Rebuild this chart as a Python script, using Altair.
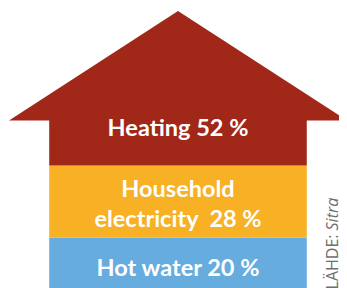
import altair as alt
import pandas as pd

# ---- data (bottom band first) ----
categories = ["Hot water", "Household electricity", "Heating"]
shares = [20, 28, 52]
colors = ["#66ACDF", "#F8B024", "#A12718"]
label_lines = [["Hot water 20 %"], ["Household", "electricity\u00a0 28 %"], ["Heating 52 %"]]
source_parts = ["LÄHDE:", "Sitra"]

# ---- house geometry (in scale units) ----
ROOF_BASE = 65.5
APEX = 108.1
BODY_HALF = 0.762
X_MAX = 1 - 8 / 169.0   # right part of the roof runs off the page

bands = []
top = 0
for cat, s, c in zip(categories, shares, colors):
    y0, y1 = top, top + s
    top = y1
    bands.append({"cat": cat, "share": s, "color": c, "y0": y0, "y1": y1,
                  "xl": -BODY_HALF, "xr": BODY_HALF})
bands[-1]["y1"] = ROOF_BASE + 2
bands_df = pd.DataFrame(bands)

roof_df = pd.DataFrame({"x": [-1.0, 0.0, 1.0],
                        "y": [ROOF_BASE, APEX, ROOF_BASE],
                        "y2": [ROOF_BASE] * 3})

offsets = [[5.2], [15.8, 4.2], [11.5]]
lab_rows = []
for b, lines, offs in zip(bands, label_lines, offsets):
    for t, o in zip(lines, offs):
        lab_rows.append({"text": t, "x": 0.0, "y": b["y0"] + o})
labels_df = pd.DataFrame(lab_rows)

xs = alt.Scale(domain=[-1, X_MAX], nice=False, zero=False)
ys = alt.Scale(domain=[0, APEX], nice=False, zero=False)
noax = None

body = alt.Chart(bands_df).mark_rect().encode(
    x=alt.X("xl:Q", scale=xs, axis=noax),
    x2="xr:Q",
    y=alt.Y("y0:Q", scale=ys, axis=noax),
    y2="y1:Q",
    color=alt.Color("color:N", scale=None, legend=None),
)

roof = alt.Chart(roof_df).mark_area(color=colors[-1], orient="vertical").encode(
    x=alt.X("x:Q", scale=xs, axis=noax),
    y=alt.Y("y:Q", scale=ys, axis=noax),
    y2="y2:Q",
)

labels = alt.Chart(labels_df).mark_text(
    font="Lato", fontWeight="bold", fontSize=23.5, color="white",
    align="center", baseline="alphabetic",
).encode(
    x=alt.X("x:Q", scale=xs, axis=noax),
    y=alt.Y("y:Q", scale=ys, axis=noax),
    text="text:N",
)

src_df = pd.DataFrame({"text": source_parts, "x": [0.947, 0.947], "y": [21.2, 35.5]})
src1 = alt.Chart(src_df.iloc[[0]]).mark_text(
    font="Open Sans", fontSize=16, color="#6E6E6E", angle=270,
    align="right", baseline="alphabetic",
).encode(x=alt.X("x:Q", scale=xs, axis=noax), y=alt.Y("y:Q", scale=ys, axis=noax), text="text:N")
src2 = alt.Chart(src_df.iloc[[1]]).mark_text(
    font="Open Sans", fontSize=16, fontStyle="italic", color="#6E6E6E", angle=270,
    align="right", baseline="alphabetic",
).encode(x=alt.X("x:Q", scale=xs, axis=noax), y=alt.Y("y:Q", scale=ys, axis=noax), text="text:N")

chart = alt.layer(body, roof, labels, src1, src2).properties(
    width=330, height=278,
    padding={"left": 1, "top": 3, "right": 0, "bottom": 0},
    autosize=alt.AutoSizeParams(type="none"),
    background="white",
).configure_view(stroke=None)

chart.save("out.html", embed_options={"renderer": "svg", "actions": False})
